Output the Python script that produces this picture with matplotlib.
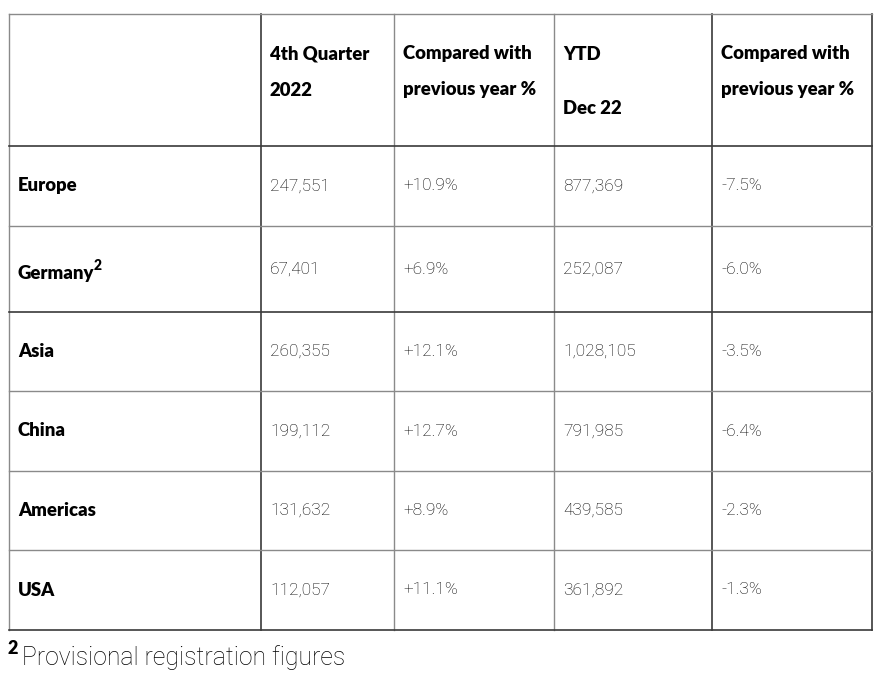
import matplotlib.pyplot as plt

regions = ['Europe', 'Germany', 'Asia', 'China', 'Americas', 'USA']
q4_2022 = ['247,551', '67,401', '260,355', '199,112', '131,632', '112,057']
q4_change = ['+10.9%', '+6.9%', '+12.1%', '+12.7%', '+8.9%', '+11.1%']
ytd_dec22 = ['877,369', '252,087', '1,028,105', '791,985', '439,585', '361,892']
ytd_change = ['-7.5%', '-6.0%', '-3.5%', '-6.4%', '-2.3%', '-1.3%']
footnote = 'Provisional registration figures'

# layout in pixels
col_edges = [9, 261, 394, 554, 712, 872]
row_edges = [14, 146, 226, 312, 391, 471, 550, 630]
dark_cols = [261, 712, 872]
dark_rows = [146, 312, 630]

fig = plt.figure(figsize=(8.85, 6.84), dpi=100)
ax = fig.add_axes([0, 0, 1, 1])
ax.set_xlim(0, 885)
ax.set_ylim(684, 0)
ax.axis('off')

for x in col_edges:
    c = '#3a3a3a' if x in dark_cols else '#8a8a8a'
    ax.plot([x, x], [row_edges[0], row_edges[-1]], color=c, lw=1.2 if x in dark_cols else 1.0)
for y in row_edges:
    c = '#3a3a3a' if y in dark_rows else '#8a8a8a'
    ax.plot([col_edges[0], col_edges[-1]], [y, y], color=c, lw=1.2 if y in dark_rows else 1.0)

hfont = dict(family='Lato', weight='heavy', fontsize=13.3, color='black')
dfont = dict(family='Roboto', weight='light', fontsize=12.4, color='black')

# header
ax.text(270, 54, '4th Quarter', va='center', **hfont)
ax.text(270, 90, '2022', va='center', **hfont)
ax.text(403, 54, 'Compared with', va='center', **hfont)
ax.text(403, 90, 'previous year %', va='center', **hfont)
ax.text(563, 54, 'YTD', va='center', **hfont)
ax.text(563, 108, 'Dec 22', va='center', **hfont)
ax.text(721, 54, 'Compared with', va='center', **hfont)
ax.text(721, 90, 'previous year %', va='center', **hfont)

text_x = [18, 270, 403, 563, 721]
for i, reg in enumerate(regions):
    y = (row_edges[i + 1] + row_edges[i + 2]) / 2
    if reg == 'Germany':
        ax.text(text_x[0], y + 4, 'Germany', va='center', **hfont)
        ax.text(text_x[0] + 76, y - 4, '2', va='center', family='Lato', weight='heavy',
                fontsize=10, color='black')
    else:
        ax.text(text_x[0], y, reg, va='center', **hfont)
    ax.text(text_x[1], y, q4_2022[i], va='center', **dfont)
    ax.text(text_x[2], y, q4_change[i], va='center', **dfont)
    ax.text(text_x[3], y, ytd_dec22[i], va='center', **dfont)
    ax.text(text_x[4], y, ytd_change[i], va='center', **dfont)

ax.text(8, 649, '2', va='center', family='Lato', weight='heavy', fontsize=13, color='black')
ax.text(22, 658, footnote, va='center', family='Roboto', weight='light', fontsize=17.8, color='black')

fig.savefig('out.png', dpi=100)
